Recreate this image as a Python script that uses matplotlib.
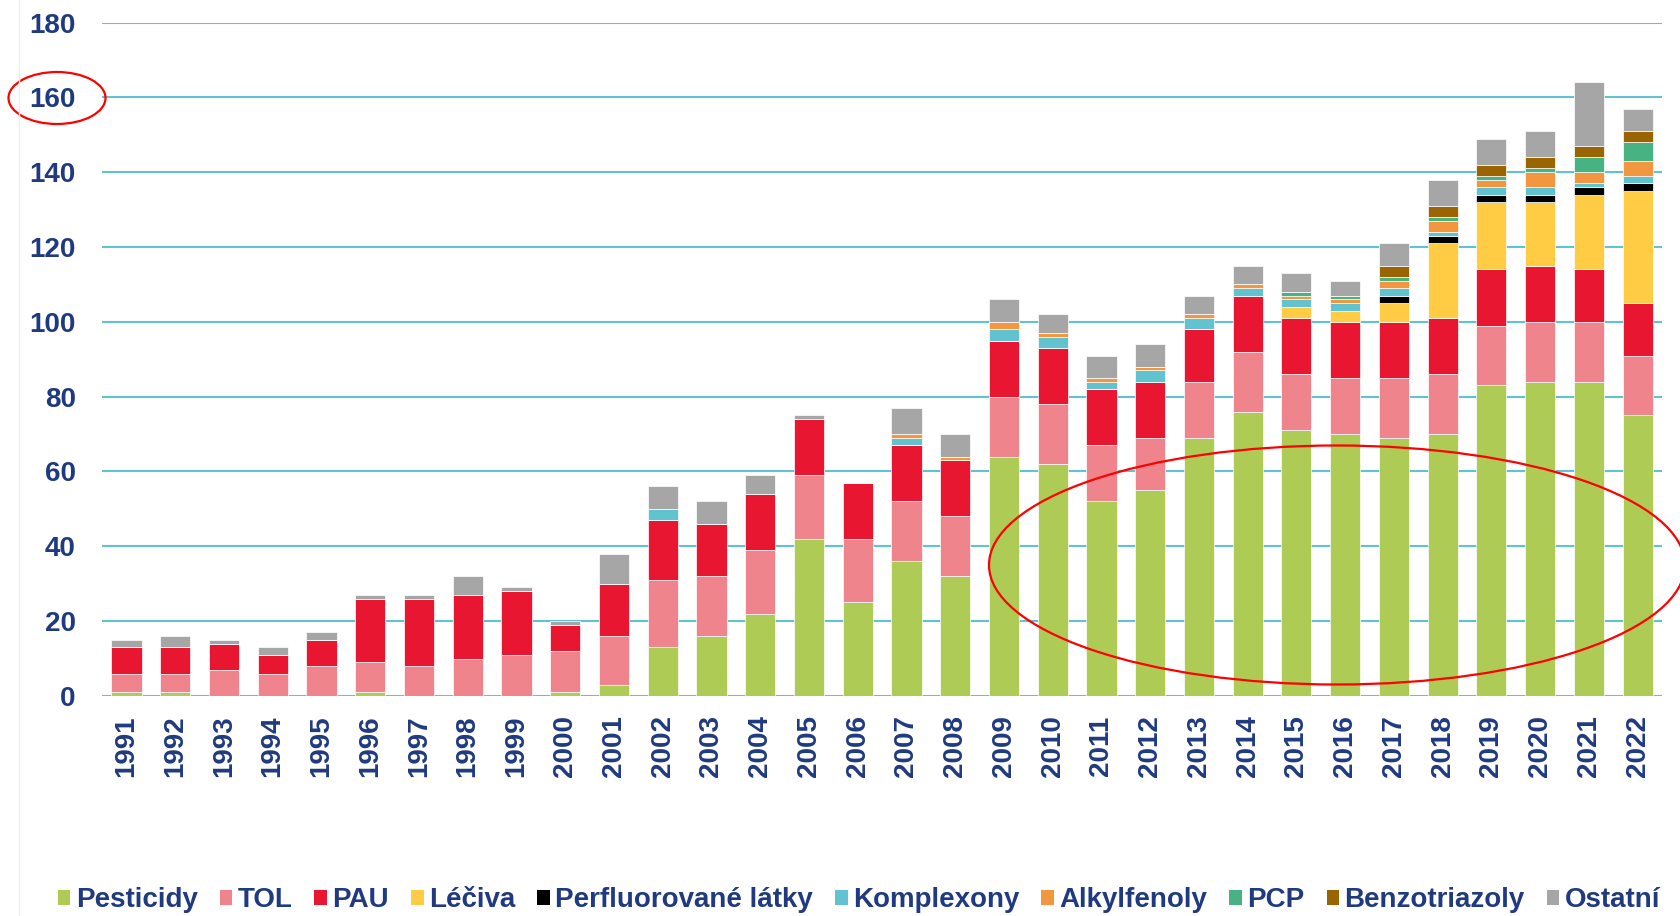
import matplotlib
matplotlib.use("Agg")
import matplotlib.pyplot as plt
import numpy as np
from matplotlib.patches import Patch, Ellipse
from matplotlib.lines import Line2D

# years on the x axis
years = [str(y) for y in range(1991, 2023)]

# values per group (stacked from bottom to top)
pesticidy = [1, 1, 0, 0, 0, 1, 0, 0, 0, 1, 3, 13, 16, 22, 42, 25, 36, 32, 64, 62,
             52, 55, 69, 76, 71, 70, 69, 70, 83, 84, 84, 75]
tol = [5, 5, 7, 6, 8, 8, 8, 10, 11, 11, 13, 18, 16, 17, 17, 17, 16, 16, 16, 16,
       15, 14, 15, 16, 15, 15, 16, 16, 16, 16, 16, 16]
pau = [7, 7, 7, 5, 7, 17, 18, 17, 17, 7, 14, 16, 14, 15, 15, 15, 15, 15, 15, 15,
       15, 15, 14, 15, 15, 15, 15, 15, 15, 15, 14, 14]
leciva = [0] * 24 + [3, 3, 5, 20, 18, 17, 20, 30]
perfluor = [0] * 26 + [2, 2, 2, 2, 2, 2]
komplexony = [0, 0, 0, 0, 0, 0, 0, 0, 0, 0, 0, 3, 0, 0, 0, 0, 2, 0, 3, 3,
              2, 3, 3, 2, 2, 2, 2, 1, 2, 2, 1, 2]
alkylfenoly = [0, 0, 0, 0, 0, 0, 0, 0, 0, 0, 0, 0, 0, 0, 0, 0, 1, 1, 2, 1,
               1, 1, 1, 1, 1, 1, 2, 3, 2, 4, 3, 4]
pcp = [0] * 24 + [1, 1, 1, 1, 1, 1, 4, 5]
benzotriazoly = [0] * 26 + [3, 3, 3, 3, 3, 3]
ostatni = [2, 3, 1, 2, 2, 1, 1, 5, 1, 1, 8, 6, 6, 5, 1, 0, 7, 6, 6, 5,
           6, 6, 5, 5, 5, 4, 6, 7, 7, 7, 17, 6]

series = [
    ("Pesticidy", pesticidy, "#AECB55"),
    ("TOL", tol, "#F0848C"),
    ("PAU", pau, "#E91632"),
    ("Léčiva", leciva, "#FFCC44"),
    ("Perfluorované látky", perfluor, "#000000"),
    ("Komplexony", komplexony, "#62C3D0"),
    ("Alkylfenoly", alkylfenoly, "#F29640"),
    ("PCP", pcp, "#47B383"),
    ("Benzotriazoly", benzotriazoly, "#9A6500"),
    ("Ostatní", ostatni, "#A6A6A6"),
]

navy = "#1F3A80"
grid_col = "#62C3D0"
plt.rcParams["font.family"] = ["Liberation Sans", "DejaVu Sans"]
plt.rcParams["font.weight"] = "bold"

fig = plt.figure(figsize=(16.81, 9.16), dpi=100)
ax = fig.add_axes([0.0607, 0.2402, 0.928, 0.7352])

x = np.arange(len(years))
bottom = np.zeros(len(years))
for name, vals, col in series:
    vals = np.array(vals, dtype=float)
    ax.bar(x, vals, 0.62, bottom=bottom, color=col, edgecolor="white",
           linewidth=0.5, label=name, zorder=3)
    bottom += vals

ax.set_xlim(-0.5, len(years) - 0.5)
ax.set_ylim(0, 180)
ax.set_yticks(range(0, 181, 20))
ax.set_xticks(x)
ax.set_xticklabels(years, rotation=90)
ax.yaxis.grid(True, color=grid_col, linewidth=1.5, zorder=0)
ax.set_axisbelow(True)
for s in ax.spines.values():
    s.set_visible(False)
ax.tick_params(axis="y", length=0, pad=19, labelsize=20, labelcolor=navy)
ax.tick_params(axis="x", length=0, pad=14, labelsize=20, labelcolor=navy)
for lbl in ax.get_xticklabels() + ax.get_yticklabels():
    lbl.set_fontweight("bold")

# legend along the bottom
handles = [Patch(facecolor=col, edgecolor="none") for _, _, col in series]
labels = [name for name, _, _ in series]
fig.legend(handles, labels, loc="center", bbox_to_anchor=(0.511, 0.017),
           ncol=10, frameon=False, fontsize=20, labelcolor=navy,
           handlelength=0.45, handleheight=0.45, handletextpad=0.2,
           columnspacing=0.79, borderaxespad=0)

# red hand-drawn ellipses
W, H = 1681.0, 916.0
fig.add_artist(Ellipse((57 / W, 1 - 98 / H), 97 / W, 52 / H,
                       transform=fig.transFigure, fill=False,
                       edgecolor="#FF0000", linewidth=1.6))
fig.add_artist(Ellipse((1337 / W, 1 - 565 / H), 696 / W, 239 / H,
                       transform=fig.transFigure, fill=False,
                       edgecolor="#FF0000", linewidth=1.6, zorder=5))

# faint border on the left
fig.add_artist(Line2D([19 / W, 19 / W], [0, 1], transform=fig.transFigure,
                      color="#EEEEEE", linewidth=1))

fig.savefig("out.png", dpi=100, facecolor="white")
